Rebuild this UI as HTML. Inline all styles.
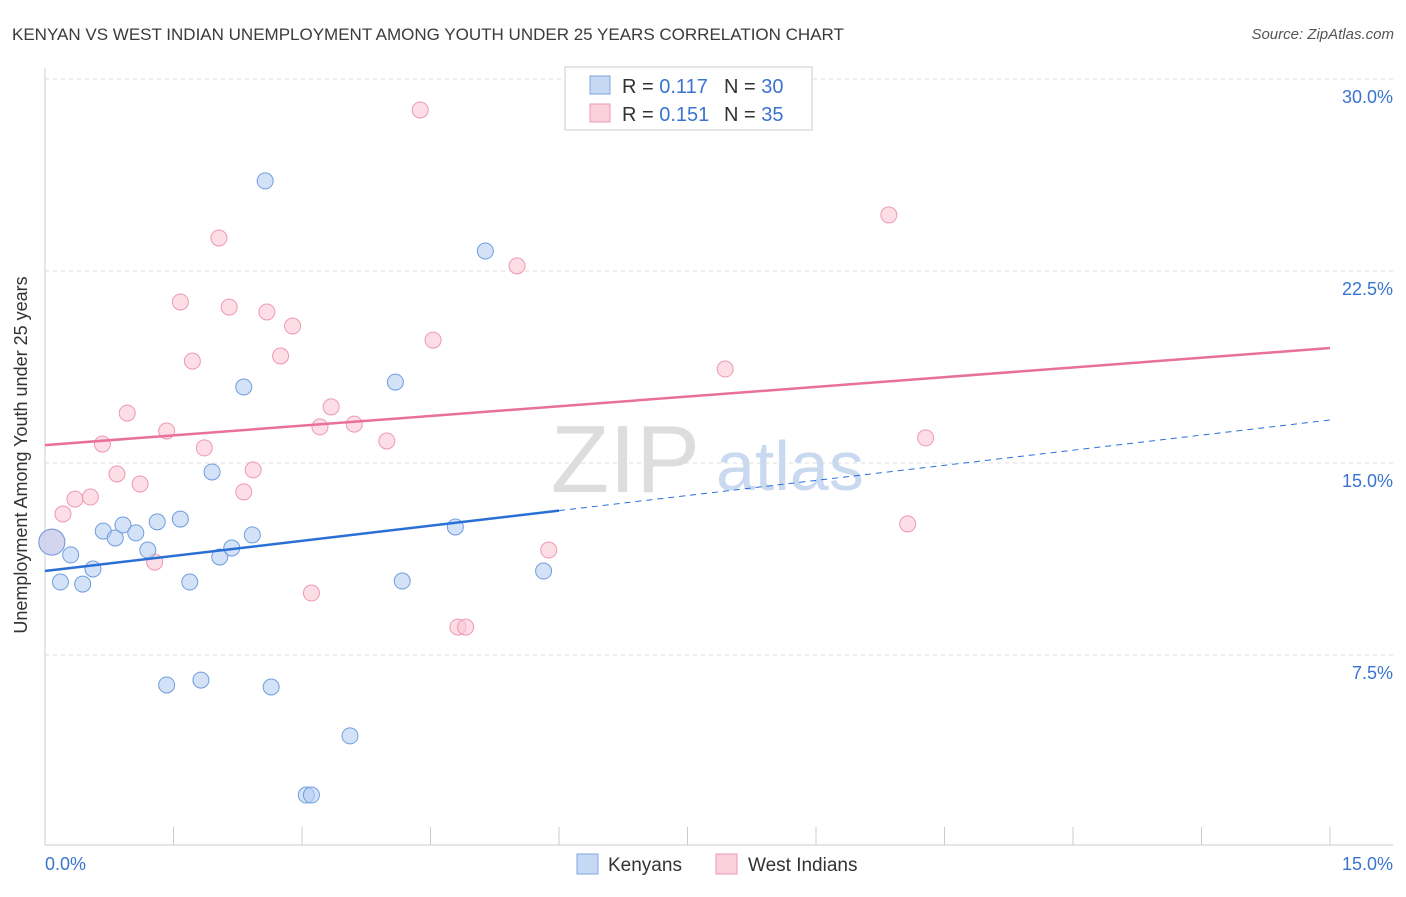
<!DOCTYPE html>
<html><head><meta charset="utf-8"><style>
body{margin:0;background:#fff;font-family:"Liberation Sans",sans-serif}
svg text{font-family:"Liberation Sans",sans-serif}
</style></head><body>
<svg width="1406" height="892" viewBox="0 0 1406 892">
<text x="12" y="40" font-size="17" fill="#3a3a3a">KENYAN VS WEST INDIAN UNEMPLOYMENT AMONG YOUTH UNDER 25 YEARS CORRELATION CHART</text>
<text x="1394" y="39" font-size="15" fill="#555" text-anchor="end" font-style="italic">Source: ZipAtlas.com</text>
<g id="grid"></g>
<g id="axes"></g>
<text x="700" y="492" font-size="96" fill="#ddd" text-anchor="end" font-family="Liberation Serif">ZIP</text>
<text x="716" y="490" font-size="70" fill="#c9d9ef">atlas</text>
<g id="marks"></g>
<g>
<rect x="565" y="67" width="247" height="63" fill="#fff" stroke="#ccc"/>
<rect x="590" y="76" width="20" height="18" fill="#c5d9f5" stroke="#7ea6e0"/>
<text x="622" y="93" font-size="20" fill="#333">R = <tspan fill="#3a74d0">0.117</tspan></text>
<text x="724" y="93" font-size="20" fill="#333">N = <tspan fill="#3a74d0">30</tspan></text>
<rect x="590" y="104" width="20" height="18" fill="#fbd0dd" stroke="#ee99b3"/>
<text x="622" y="121" font-size="20" fill="#333">R = <tspan fill="#3a74d0">0.151</tspan></text>
<text x="724" y="121" font-size="20" fill="#333">N =  <tspan fill="#3a74d0">35</tspan></text>
</g>
<g>
<rect x="577" y="854" width="21" height="20" fill="#c5d9f5" stroke="#7ea6e0"/>
<text x="608" y="871" font-size="19" fill="#333">Kenyans</text>
<rect x="716" y="854" width="21" height="20" fill="#fbd0dd" stroke="#ee99b3"/>
<text x="748" y="871" font-size="19" fill="#333">West Indians</text>
</g>
<text x="27" y="455" font-size="18" fill="#333" text-anchor="middle" transform="rotate(-90 27 455)">Unemployment Among Youth under 25 years</text>
</svg>
<script>
const kenX=[0.08,0.18,0.30,0.44,0.56,0.68,0.82,0.91,1.06,1.20,1.31,1.42,1.58,1.69,1.82,1.95,2.04,2.18,2.32,2.42,2.57,2.64,3.05,3.11,3.56,4.09,4.17,4.79,5.14,5.82];
const kenY=[11.91,10.35,11.41,10.27,10.86,12.34,12.07,12.58,12.27,11.60,12.70,6.33,12.81,10.35,6.52,14.65,11.33,11.68,17.97,12.19,26.02,6.25,2.03,2.03,4.34,18.16,10.39,12.50,23.28,10.78];
const wiX=[0.08,0.21,0.35,0.53,0.67,0.84,0.96,1.11,1.28,1.42,1.58,1.72,1.86,2.03,2.15,2.32,2.43,2.59,2.75,2.89,3.11,3.21,3.34,3.61,3.99,4.38,4.53,4.82,4.91,5.51,5.88,7.94,9.85,10.07,10.28];
const wiY=[11.91,13.01,13.59,13.67,15.74,14.57,16.95,14.18,11.13,16.25,21.29,18.98,15.59,23.79,21.09,13.87,14.73,20.90,19.18,20.35,9.92,16.41,17.19,16.52,15.86,28.79,19.80,8.59,8.59,22.70,11.60,18.67,24.69,12.62,15.98];
const yTicks=[7.5,15,22.5,30];
const yTickLabels=["7.5%","15.0%","22.5%","30.0%"];
const kenTrend=[10.78,16.68];
const wiTrend=[15.70,19.49];
const kenSolidEnd=6;
const NS="http://www.w3.org/2000/svg";
const sx=v=>45+v/15*1285;
const sy=v=>847-v*25.6;
function mk(t,a,p){const e=document.createElementNS(NS,t);for(const k in a)e.setAttribute(k,a[k]);p.appendChild(e);return e;}
const grid=document.getElementById('grid'),axes=document.getElementById('axes'),marks=document.getElementById('marks');
yTicks.forEach((t,i)=>{
 const l=mk('line',{x1:45,x2:1393,y1:sy(t),y2:sy(t),stroke:'#ddd','stroke-dasharray':'4 4'},grid);
 
 
 const tx=mk('text',{x:1393,y:sy(t)+24,'font-size':18,fill:'#3a74d0','text-anchor':'end'},axes);
 tx.textContent=yTickLabels[i];
 
 
});
let a=mk('line',{x1:45,x2:45,y1:68,y2:845,stroke:'#ccc'},axes);


a=mk('line',{x1:45,x2:1393,y1:845,y2:845,stroke:'#ccc'},axes);


for(let i=1;i<=10;i++){const t=mk('line',{x1:sx(i*1.5),x2:sx(i*1.5),y1:827,y2:845,stroke:'#ccc'},axes);
 
 }
let xl=mk('text',{x:45,y:870,'font-size':18,fill:'#3a74d0'},axes);xl.textContent='0.0%';


xl=mk('text',{x:1393,y:870,'font-size':18,fill:'#3a74d0','text-anchor':'end'},axes);xl.textContent='15.0%';


function pts(X,Y,fill,stroke,name){X.forEach((x,i)=>{const c=mk('circle',{cx:sx(x),cy:sy(Y[i]),r:i==0?13:8,fill:fill,'fill-opacity':0.6,stroke:stroke,'stroke-width':1},marks);
 
 });}
pts(wiX,wiY,'#fbc6d6','#ee99b3','west-indian-point');
pts(kenX,kenY,'#b7cff2','#6f9ddf','kenyan-point');
const kl=v=>kenTrend[0]+(kenTrend[1]-kenTrend[0])*v/15;
let ln=mk('line',{x1:sx(0),y1:sy(kl(0)),x2:sx(kenSolidEnd),y2:sy(kl(kenSolidEnd)),stroke:'#2a6fd6','stroke-width':2.5},marks);


ln=mk('line',{x1:sx(kenSolidEnd),y1:sy(kl(kenSolidEnd)),x2:sx(15),y2:sy(kl(15)),stroke:'#2a6fd6','stroke-width':1,'stroke-dasharray':'6 5'},marks);


ln=mk('line',{x1:sx(0),y1:sy(wiTrend[0]),x2:sx(15),y2:sy(wiTrend[1]),stroke:'#e8709a','stroke-width':2.5},marks);


</script>
</body></html>
